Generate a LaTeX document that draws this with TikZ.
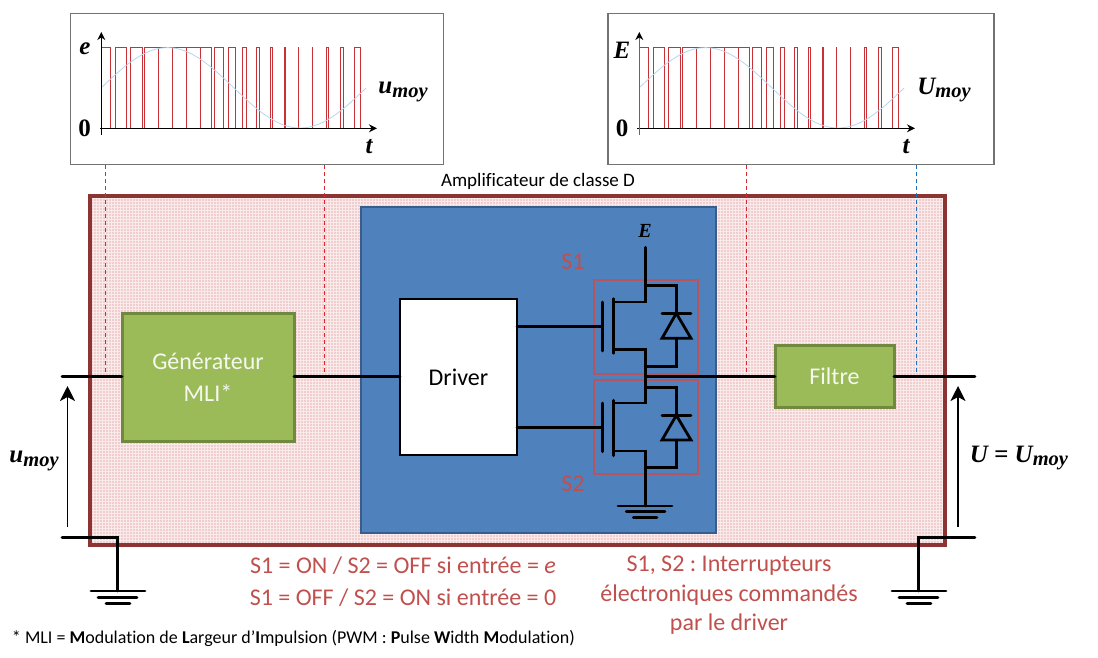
\documentclass[tikz,border=0pt]{standalone}
\usepackage{fontspec}
\setmainfont{Carlito}[Ligatures=CommonOff]
\newfontfamily\symfont{Liberation Serif}
\frenchspacing
\usetikzlibrary{arrows.meta,patterns}
\definecolor{ampred}{RGB}{140,52,50}
\definecolor{amppink}{RGB}{241,205,205}
\definecolor{drvblue}{RGB}{79,129,189}
\definecolor{drvedge}{RGB}{56,93,138}
\definecolor{mligreen}{RGB}{155,187,89}
\definecolor{mliedge}{RGB}{113,137,63}
\definecolor{notered}{RGB}{192,80,77}
\definecolor{swred}{RGB}{180,85,95}
\definecolor{pwmred}{RGB}{200,50,55}
\definecolor{sinblue}{RGB}{185,213,238}
\definecolor{tapblue}{RGB}{30,110,190}
\definecolor{tapred}{RGB}{215,40,50}
\tikzset{
  every node/.style={outer sep=0},
  scopebox/.style={draw=black!55, line width=1.4pt, fill=white, minimum height=151, inner sep=0},
  greenbox/.style={draw=mliedge, line width=3pt, fill=mligreen, text=white!90!mligreen, align=center, font=\fontsize{24}{32}\selectfont, inner sep=0},
  wire/.style={line width=2.8pt, line cap=round},
  axis/.style={line width=1.4pt, -{Stealth[length=8pt,width=8pt]}},
  volt/.style={line width=1.8pt, -{Stealth[length=15pt,width=15pt,inset=4pt]}},
  pulse/.style={pwmred, line width=1pt},
  tap/.style={line width=1pt, dash pattern=on 4pt off 3pt},
  swbox/.style={draw=swred, line width=2.2pt, minimum width=104, inner sep=0},
  sym/.style={font=\symfont\bfseries\itshape\fontsize{25}{28}\selectfont, inner sep=0},
  note/.style={text=notered, font=\fontsize{24}{28}\selectfont, inner sep=0},
}
\newcommand{\moylbl}[1]{#1\raisebox{-.3ex}{\fontsize{20.5}{20}\selectfont moy}}
% chronogram: one pair (rise/fall) per period, relative to the axis
\newcommand{\pwmtrace}{%
  \foreach \rr/\ff in {0/9.3,14.3/25.3,28.7/41,43/56.7,57.3/71,71.3/84.7,85.3/98.7,99/109.7,113/122.3,127/134,141/145.3,155/158,169/171,183/183.7,197/197.3,211/211.3,225/226.7,239/242.3,253/259.3}{
    \draw[pulse] (\rr,128) -- (\rr,47.6) -- (\ff,47.6) -- (\ff,128);
  }
  \draw[sinblue, line width=.8pt] plot[domain=0:265, samples=80] (\x,{87.8-40.2*sin(\x/265*360)});
}
\begin{document}
\begin{tikzpicture}[x=1pt,y=-1pt]
\useasboundingbox (0,0) rectangle (1098,657);

% amplifier frame
\node[fill=amppink, minimum width=855, minimum height=349, inner sep=0] (amp) at (517.5,370.5){};
\fill[pattern=grid, pattern color=white!60!amppink] (amp.north west) rectangle (amp.south east);
\draw[ampred, line width=3.2pt] (amp.north west) rectangle (amp.south east);
\node[font=\fontsize{19}{22}\selectfont, inner sep=0] (amptitle) at (538,181){Amplificateur de classe D};

% chronograms
\node[scopebox, minimum width=373] (scopeA) at (257,89){};
\node[scopebox, minimum width=386] (scopeB) at (801,89){};

\begin{scope}[xshift=101.3pt]
\pwmtrace
\end{scope}
\begin{scope}[xshift=639.3pt]
\pwmtrace
\end{scope}

\coordinate (orgA) at (100,128.3);
\coordinate (endA) at (377,128.3);
\coordinate (lowA) at (101.3,134.5);
\coordinate (topA) at (101.3,32);
\draw[axis] (orgA) -- (endA);
\draw[axis] (lowA) -- (topA);
\coordinate (orgB) at (637,128.3);
\coordinate (endB) at (915,128.3);
\coordinate (lowB) at (639.3,134.5);
\coordinate (topB) at (639.3,32);
\draw[axis] (orgB) -- (endB);
\draw[axis, draw=black!60, -{Stealth[length=8pt,width=8pt,black]}] (lowB) -- (topB);

\node[sym] (eA) at (85,49){e};
\node[sym] (zeroA) at (84.5,128){\upshape 0};
\node[sym] (tA) at (369,147){t};
\node[sym] (moyA) at (403,92){\moylbl{u}};
\node[sym] (eB) at (622,50){E};
\node[sym] (zeroB) at (622,128){\upshape 0};
\node[sym] (tB) at (906,147){t};
\node[sym] (moyB) at (944,90){\moylbl{U}};

% probes
\coordinate (probeA) at (105,165);
\coordinate (tapA) at (105,376.3);
\coordinate (probeB) at (324.7,165);
\coordinate (tapB) at (324.7,376.3);
\coordinate (probeC) at (746.7,165);
\coordinate (tapC) at (746.7,376.3);
\coordinate (probeD) at (916,165);
\coordinate (tapD) at (916,376.3);
\draw[tap, tapblue] (probeA) -- (tapA);
\draw[tap, tapred] (probeB) -- (tapB);
\draw[tap, tapred] (probeC) -- (tapC);
\draw[tap, tapblue] (probeD) -- (tapD);

% blocks
\node[draw=drvedge, line width=2.6pt, fill=drvblue, minimum width=355, minimum height=326, inner sep=0] (drvzone) at (538.5,370){};
\node[greenbox, minimum width=172, minimum height=128] (mli) at (208,377){Générateur\\MLI*};
\node[greenbox, minimum width=119, minimum height=62] (filtre) at (834.5,376){Filtre};
\node[draw, line width=2.8pt, fill=white, minimum width=117, minimum height=156, inner sep=0, font=\fontsize{24}{26}\selectfont] (driver) at (458.5,377){Driver};

% switch S1
\node[swbox, minimum height=94] (boxS1) at (645.6,326.6){};
\node[swbox, minimum height=93.4] (boxS2) at (645.6,427){};
\coordinate (supply) at (645.3,247.3);
\coordinate (d1) at (645.3,302);
\coordinate (d1in) at (613.7,302);
\coordinate (s1in) at (613.7,349.3);
\coordinate (s1) at (645.3,349.3);
\coordinate (ch1a) at (613.7,298.7);
\coordinate (ch1b) at (613.7,353.3);
\coordinate (g1a) at (602.3,302);
\coordinate (g1b) at (602.3,351);
\coordinate (g1) at (602.3,326.3);
\coordinate (mid) at (645.3,376.3);
\coordinate (dk1) at (645.3,285.3);
\coordinate (dk1r) at (676.3,285.3);
\coordinate (da1) at (645.3,366.3);
\coordinate (da1r) at (676.3,366.3);
\draw[wire] (supply) -- (d1) -- (d1in);
\draw[wire] (s1in) -- (s1) -- (mid);
\draw[wire] (ch1a) -- (ch1b);
\draw[wire] (g1a) -- (g1b);
\draw[wire] (dk1) -- (dk1r) -- (676.3,313.3);
\draw[wire] (676.3,338.3) -- (da1r) -- (da1);
\draw[wire] (662,313.3) -- (691,313.3);
\draw[wire, line join=miter] (676.3,313.3) -- (662,338.3) -- (691,338.3) -- cycle;

% switch S2
\coordinate (d2) at (645.3,403);
\coordinate (d2in) at (613.7,403);
\coordinate (s2in) at (613.7,451);
\coordinate (s2) at (645.3,451);
\coordinate (ch2a) at (613.7,400.3);
\coordinate (ch2b) at (613.7,455.7);
\coordinate (g2a) at (602.3,403);
\coordinate (g2b) at (602.3,451.7);
\coordinate (g2) at (602.3,427.3);
\coordinate (dk2) at (645.3,387.7);
\coordinate (dk2r) at (676.3,387.7);
\coordinate (da2) at (645.3,467.3);
\coordinate (da2r) at (676.3,467.3);
\coordinate (gndC) at (645.3,506);
\draw[wire] (mid) -- (d2) -- (d2in);
\draw[wire] (s2in) -- (s2) -- (gndC);
\draw[wire] (ch2a) -- (ch2b);
\draw[wire] (g2a) -- (g2b);
\draw[wire] (dk2) -- (dk2r) -- (676.3,415.3);
\draw[wire] (676.3,440) -- (da2r) -- (da2);
\draw[wire] (662,415.3) -- (691,415.3);
\draw[wire, line join=miter] (676.3,415.3) -- (662,440) -- (691,440) -- cycle;
\draw[wire] (618,506) -- (672,506);
\draw[wire] (626.3,511.5) -- (665,511.5);
\draw[wire] (633.3,517.3) -- (657,517.3);

\draw[wire] (driver.east |- g1) -- (g1);
\draw[wire] (driver.east |- g2) -- (g2);

\node[note] (lblS1) at (573,262){S1};
\node[note] (lblS2) at (573,484){S2};
\node[sym, font=\symfont\bfseries\itshape\fontsize{20}{22}\selectfont] (lblE) at (645,231){E};

% main line
\coordinate (inL) at (62,376.3);
\coordinate (outR) at (975,376.3);
\draw[wire] (inL) -- (mli.west |- inL);
\draw[wire] (mli.east |- inL) -- (driver.west |- inL);
\draw[wire] (mid) -- (filtre.west |- mid);
\draw[wire] (filtre.east |- mid) -- (outR);

% return lines and grounds
\coordinate (retL) at (62,537.6);
\coordinate (kneeL) at (117.5,537.6);
\coordinate (gndL) at (117.5,591);
\draw[wire, line join=miter] (retL) -- (kneeL) -- (gndL);
\draw[wire] (91,591) -- (145,591);
\draw[wire] (98,597.5) -- (137,597.5);
\draw[wire] (106,603.3) -- (130,603.3);
\coordinate (retR) at (975,537.6);
\coordinate (kneeR) at (918.5,537.6);
\coordinate (gndR) at (918.5,591);
\draw[wire, line join=miter] (retR) -- (kneeR) -- (gndR);
\draw[wire] (892,591) -- (946,591);
\draw[wire] (899,597.5) -- (938,597.5);
\draw[wire] (907,603.3) -- (931,603.3);

% voltages
\coordinate (vLa) at (67.5,527);
\coordinate (vLb) at (67.5,386);
\coordinate (vRa) at (958,527);
\coordinate (vRb) at (958,386);
\draw[volt] (vLa) -- (vLb);
\draw[volt] (vRa) -- (vRb);
\node[sym] (lblin) at (34,461){\moylbl{u}};
\node[sym] (lblout) at (1019,458){U = \moylbl{U}};

% notes
\node[note] (noteA) at (403,566){S1 = ON / S2 = OFF si entrée = \textit{e}};
\node[note] (noteB) at (403,598){S1 = OFF / S2 = ON si entrée = 0};
\node[note] (noteC) at (729,566){S1, S2 : Interrupteurs};
\node[note] (noteD) at (729,595){électroniques commandés};
\node[note] (noteE) at (729,624){par le driver};
\node[anchor=west, inner sep=0, font=\fontsize{18}{20}\selectfont] (foot) at (12,638){* MLI = \textbf{M}odulation de \textbf{L}argeur d’\textbf{I}mpulsion (PWM : \textbf{P}ulse \textbf{W}idth \textbf{M}odulation)};

\end{tikzpicture}
\end{document}
